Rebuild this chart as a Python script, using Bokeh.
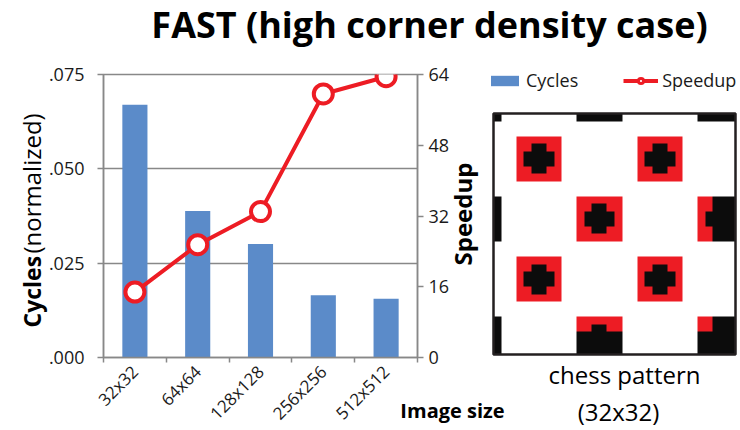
import numpy as np
from math import pi

from bokeh.plotting import figure
from bokeh.models import Range1d, LinearAxis, FixedTicker, Label, Legend, LegendItem
from bokeh.embed import file_html
from bokeh.resources import INLINE

# ---- chart data -------------------------------------------------------------
image_sizes = ["32x32", "64x64", "128x128", "256x256", "512x512"]
cycles = [0.0670, 0.0388, 0.0301, 0.0165, 0.0156]       # normalized cycles
speedup = [14.8, 25.5, 33.0, 59.6, 63.5]                # speedup factor

cycle_ticks = [0.0, 0.025, 0.050, 0.075]
cycle_tick_labels = [".000", ".025", ".050", ".075"]
speedup_ticks = [0, 16, 32, 48, 64]
speedup_tick_labels = ["0", "16", "32", "48", "64"]

# 32x32 chess pattern with detected corners: "." white, "K" black, "R" red
chess_rows = [
    "K..........KKKKKK..........KKKKK",
    "................................",
    "................................",
    "...RRRRRR..........RRRRRR.......",
    "...RRKKRR..........RRKKRR.......",
    "...RKKKKR..........RKKKKR.......",
    "...RKKKKR..........RKKKKR.......",
    "...RRKKRR..........RRKKRR.......",
    "...RRRRRR..........RRRRRR.......",
    "................................",
    "................................",
    "K..........RRRRRR..........RRKKK",
    "K..........RRKKRR..........RRKKK",
    "K..........RKKKKR..........RKKKK",
    "K..........RKKKKR..........RKKKK",
    "K..........RRKKRR..........RRKKK",
    "K..........RRRRRR..........RRKKK",
    "................................",
    "................................",
    "...RRRRRR..........RRRRRR.......",
    "...RRKKRR..........RRKKRR.......",
    "...RKKKKR..........RKKKKR.......",
    "...RKKKKR..........RKKKKR.......",
    "...RRKKRR..........RRKKRR.......",
    "...RRRRRR..........RRRRRR.......",
    "................................",
    "................................",
    "K..........RRRRRR..........RRKKK",
    "K..........RRKKRR..........RRKKK",
    "K..........KKKKKK..........KKKKK",
    "K..........KKKKKK..........KKKKK",
    "K..........KKKKKK..........KKKKK",
]

# ---- styling / page layout (pixels from the top-left corner) ---------------------
FONT = "Open Sans"
BAR_COLOR = "#5b8bc9"
RED = "#ed1c24"
AXIS_GRAY = "#888888"
TEXT = "#1a1a1a"
pixel_colors = {".": (255, 255, 255), "K": (12, 12, 12), "R": (237, 28, 36)}

W, H = 740, 430
PLOT_LEFT, PLOT_RIGHT, PLOT_TOP, PLOT_BOTTOM = 103, 417, 74, 357
IMG_LEFT, IMG_RIGHT, IMG_TOP, IMG_BOTTOM = 493, 735, 113, 354
PIN = {"position": "absolute", "left": "0px", "top": "0px"}

# ---- bar + line chart -------------------------------------------------------------
xpos = [i + 0.5 for i in range(len(image_sizes))]

p = figure(frame_width=PLOT_RIGHT - PLOT_LEFT, frame_height=PLOT_BOTTOM - PLOT_TOP,
           min_border_left=PLOT_LEFT, min_border_right=W - PLOT_RIGHT,
           min_border_top=PLOT_TOP, min_border_bottom=H - PLOT_BOTTOM,
           x_range=Range1d(0, len(image_sizes)),
           y_range=Range1d(cycle_ticks[0], cycle_ticks[-1]),
           output_backend="svg", toolbar_location=None)
p.styles = PIN
p.extra_y_ranges = {"speed": Range1d(speedup_ticks[0], speedup_ticks[-1])}
p.outline_line_color = AXIS_GRAY
p.outline_line_width = 1.5
p.xgrid.visible = False
p.ygrid.ticker = FixedTicker(ticks=cycle_ticks)
p.ygrid.grid_line_color = AXIS_GRAY
p.ygrid.grid_line_width = 1.5

p.vbar(x=xpos, top=cycles, width=0.4, fill_color=BAR_COLOR, line_color=None)
p.line(x=xpos, y=speedup, y_range_name="speed", line_color=RED, line_width=4)
p.scatter(x=xpos, y=speedup, y_range_name="speed", size=19,
          fill_color="white", line_color=RED, line_width=4)

# bottom axis: ticks between categories, labels at category centres
xax = p.xaxis[0]
xax.ticker = FixedTicker(ticks=xpos, minor_ticks=list(range(len(image_sizes) + 1)))
xax.major_label_overrides = {x: lab for x, lab in zip(xpos, image_sizes)}
xax.major_label_orientation = pi / 4
xax.major_tick_out = 0
xax.major_tick_in = 0
xax.minor_tick_out = 5
xax.minor_tick_in = 0
xax.minor_tick_line_color = AXIS_GRAY
xax.minor_tick_line_width = 1.5
xax.major_label_standoff = 6

# left axis: normalized cycles
yax = p.yaxis[0]
yax.ticker = FixedTicker(ticks=cycle_ticks)
yax.major_label_overrides = {t: lab for t, lab in zip(cycle_ticks, cycle_tick_labels)}
yax.minor_tick_line_color = None
yax.major_tick_out = 6
yax.major_tick_in = 0
yax.major_label_standoff = 13

# right axis: speedup
rax = LinearAxis(y_range_name="speed", ticker=FixedTicker(ticks=speedup_ticks))
rax.major_label_overrides = {t: lab for t, lab in zip(speedup_ticks, speedup_tick_labels)}
rax.minor_tick_line_color = None
rax.major_tick_out = 6
rax.major_tick_in = 0
rax.major_label_standoff = 5
p.add_layout(rax, "right")

for ax in (xax, yax, rax):
    ax.axis_line_color = AXIS_GRAY
    ax.axis_line_width = 1.5
    ax.major_tick_line_color = AXIS_GRAY
    ax.major_tick_line_width = 1.5
    ax.major_label_text_font = FONT
    ax.major_label_text_color = TEXT
xax.major_label_text_font_size = "17px"
yax.major_label_text_font_size = "18px"
rax.major_label_text_font_size = "18px"

# ---- overlay page: title, axis titles, legend and the chess pattern -------------------
# pixel coordinates, y measured upwards from the bottom edge of the page
page = figure(width=W, height=H, x_range=Range1d(0, W), y_range=Range1d(0, H),
              output_backend="svg", toolbar_location=None, min_border=0,
              background_fill_color=None, border_fill_color=None, outline_line_color=None)
page.styles = PIN
page.axis.visible = False
page.grid.visible = False


def text(x, y, s, size, bold=False, align="center", vertical=False):
    """Place a text by its baseline point (x, y), measured from the top-left corner."""
    lift = 0.388 * size          # labels are anchored on the middle of their line box
    if vertical:
        x, angle = x - lift, pi / 2
    else:
        y, angle = y - lift, 0.0
    page.add_layout(Label(x=x, y=H - y, text=s, angle=angle, text_font=FONT,
                          text_font_style="bold" if bold else "normal",
                          text_font_size=f"{size}px", text_align=align,
                          text_baseline="alphabetic", text_color="#000000"))


text(429, 38, "FAST (high corner density case)", 36, bold=True)
text(40, 327, "Cycles", 23, bold=True, align="left", vertical=True)
text(40, 253, "(normalized)", 24, align="left", vertical=True)
text(471, 265, "Speedup", 24, bold=True, align="left", vertical=True)
text(452, 418, "Image size", 20, bold=True)
text(624, 383, "chess pattern", 24)
text(618, 420, "(32x32)", 24)

# chess image (row 0 at the top) with its dark frame
n = len(chess_rows)
rgba = np.zeros((n, n, 4), dtype=np.uint8)
for r, line in enumerate(chess_rows):
    for c, ch in enumerate(line):
        rgba[r, c, :3] = pixel_colors[ch]
        rgba[r, c, 3] = 255
img = np.flipud(rgba).copy().view(dtype=np.uint32).reshape((n, n))
page.image_rgba(image=[img], x=IMG_LEFT, y=H - IMG_BOTTOM,
                dw=IMG_RIGHT - IMG_LEFT, dh=IMG_BOTTOM - IMG_TOP)
page.quad(left=[IMG_LEFT], right=[IMG_RIGHT], bottom=[H - IMG_BOTTOM], top=[H - IMG_TOP],
          fill_color=None, line_color="#231f20", line_width=2.5)

# legend swatches (placed off-page; only their legend entries show)
leg_bar = page.vbar(x=[-100], top=[-100], width=1, fill_color=BAR_COLOR, line_color=None)
leg_line = page.line(x=[-120, -100], y=[-100, -100], line_color=RED, line_width=4)
leg_mark = page.scatter(x=[-100], y=[-100], size=9, fill_color="white",
                        line_color=RED, line_width=3)
legend = Legend(items=[LegendItem(label="Cycles", renderers=[leg_bar]),
                       LegendItem(label="Speedup", renderers=[leg_line, leg_mark])],
                orientation="horizontal", location=(487, H - 92),
                border_line_color=None, background_fill_alpha=0,
                padding=0, margin=0, spacing=45, glyph_width=35, glyph_height=13,
                label_standoff=4, label_text_font=FONT, label_text_font_size="18px",
                label_text_color=TEXT)
page.add_layout(legend)

open("out.html", "w").write(file_html([p, page], INLINE))
